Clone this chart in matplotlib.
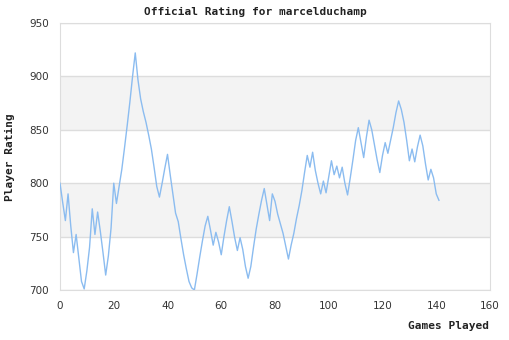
import matplotlib
matplotlib.use("Agg")
import matplotlib.pyplot as plt

# rating after each game played
games = list(range(142))
rating = [
    800, 782, 765, 790, 760, 735, 752, 730, 708, 701,
    718, 740, 776, 752, 773, 755, 735, 714, 732, 758,
    800, 781, 797, 813, 833, 854, 876, 900, 922, 897,
    879, 867, 857, 845, 832, 815, 797, 787, 800, 814,
    827, 808, 790, 772, 764, 748, 733, 720, 708, 702,
    700, 715, 731, 746, 760, 769, 756, 742, 754, 745,
    733, 750, 765, 778, 764, 749, 737, 749, 738, 722,
    711, 722, 740, 757, 771, 784, 795, 780, 765, 790,
    783, 771, 762, 753, 741, 729, 742, 753, 767, 779,
    793, 810, 826, 815, 829, 812, 800, 790, 802, 791,
    806, 821, 808, 816, 805, 815, 800, 789, 805, 822,
    840, 852, 838, 824, 843, 859, 850, 836, 822, 810,
    826, 838, 828, 840, 852, 866, 877, 869, 857, 840,
    821, 832, 820, 834, 845, 835, 818, 803, 813, 805,
    790, 784,
]
x_ticks = [0, 20, 40, 60, 80, 100, 120, 140, 160]
y_ticks = [700, 750, 800, 850, 900, 950]

fig = plt.figure(figsize=(5.1, 3.4), dpi=100)
ax = fig.add_axes([60 / 510, 50 / 340, 430 / 510, 267 / 340])

ax.set_xlim(0, 160)
ax.set_ylim(700, 950)

# alternating horizontal bands
for i, lo in enumerate(y_ticks[:-1]):
    if i % 2 == 1:
        ax.axhspan(lo, lo + 50, color="#f3f3f3", zorder=0, lw=0)
for y in y_ticks:
    ax.axhline(y, color="#dddddd", lw=1, zorder=1)

ax.plot(games, rating, color="#8bbcf0", lw=1.0, zorder=3)

ax.set_xticks(x_ticks)
ax.set_yticks(y_ticks)
ax.tick_params(length=0, labelsize=7.5, labelcolor="#333333", pad=8)
for lbl in ax.get_xticklabels() + ax.get_yticklabels():
    lbl.set_family("DejaVu Sans")
for s in ax.spines.values():
    s.set_color("#dddddd")

mono = "DejaVu Sans Mono"
fig.text(0.5, 1 - 12 / 340, "Official Rating for marcelduchamp", ha="center",
         va="center", family=mono, weight="bold", fontsize=8, color="#222222")
fig.text(10 / 510, 1 - 157 / 340, "Player Rating", ha="center", va="center",
         rotation=90, family=mono, weight="bold", fontsize=8, color="#222222")
fig.text(489 / 510, 1 - 326 / 340, "Games Played", ha="right", va="center",
         family=mono, weight="bold", fontsize=8, color="#222222")

fig.savefig("out.png", dpi=100)
